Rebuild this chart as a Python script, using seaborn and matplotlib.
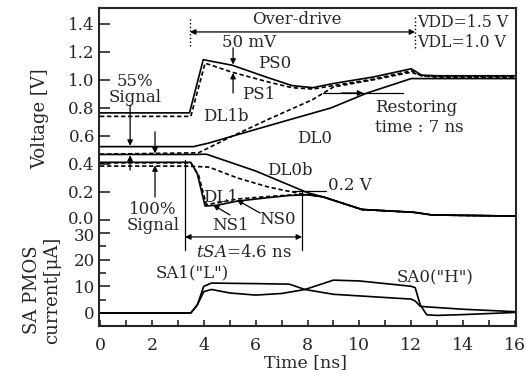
import matplotlib
matplotlib.use("Agg")
import matplotlib.pyplot as plt
import matplotlib.transforms as mtransforms
import seaborn as sns

# --- voltage waveforms (time in ns, voltage in V) ---
t_ps0 = [0, 3.45, 3.98, 5.1, 6.5, 7.4, 8.2, 9.0, 10.5, 12.0, 12.4, 13.0, 16.0]
v_ps0 = [0.765, 0.765, 1.145, 1.105, 1.015, 0.96, 0.945, 0.975, 1.02, 1.08, 1.035, 1.03, 1.03]

t_ps1 = [0, 3.5, 4.05, 5.1, 6.5, 7.4, 8.2, 9.0, 10.5, 12.0, 12.4, 13.0, 16.0]
v_ps1 = [0.74, 0.74, 1.12, 1.055, 0.985, 0.945, 0.935, 0.96, 1.005, 1.065, 1.03, 1.025, 1.025]

t_dl1b = [0, 3.8, 5.0, 6.5, 8.2, 9.0, 10.5, 12.0, 12.4, 13.0, 16.0]
v_dl1b = [0.47, 0.48, 0.59, 0.72, 0.86, 0.95, 1.0, 1.055, 1.03, 1.02, 1.02]

t_dl0 = [0, 3.6, 4.2, 5.5, 7.0, 8.9, 10.3, 12.0, 16.0]
v_dl0 = [0.524, 0.524, 0.55, 0.62, 0.70, 0.80, 0.907, 1.01, 1.01]

t_dl0b = [0, 3.7, 4.1, 6.0, 8.0, 8.6, 10.1, 12.1, 12.8, 16.0]
v_dl0b = [0.468, 0.468, 0.47, 0.35, 0.195, 0.165, 0.075, 0.055, 0.036, 0.028]

t_dl1 = [0, 3.3, 4.2, 5.3, 6.5, 7.8, 8.6, 10.1, 12.1, 12.8, 16.0]
v_dl1 = [0.385, 0.385, 0.378, 0.30, 0.235, 0.185, 0.165, 0.075, 0.055, 0.036, 0.028]

t_ns1 = [0, 3.5, 3.75, 4.05, 4.5, 5.3, 6.5, 7.3, 8.0, 8.6, 10.1, 12.1, 12.8, 16.0]
v_ns1 = [0.412, 0.412, 0.33, 0.10, 0.105, 0.135, 0.16, 0.175, 0.18, 0.165, 0.075, 0.055, 0.036, 0.028]

t_ns0 = [0, 3.5, 3.8, 4.1, 4.6, 5.3, 6.5, 7.3, 8.0, 8.6, 10.1, 12.1, 12.8, 16.0]
v_ns0 = [0.408, 0.408, 0.32, 0.11, 0.125, 0.15, 0.168, 0.178, 0.182, 0.165, 0.075, 0.055, 0.036, 0.028]

# --- SA PMOS currents (uA) ---
t_sa1 = [0, 3.5, 3.75, 4.0, 4.3, 6.0, 7.3, 7.9, 9.0, 10.0, 11.0, 12.0, 12.15, 12.35, 12.6, 14.0, 16.0]
i_sa1 = [0, 0, 3.0, 10.0, 11.2, 11.0, 10.8, 8.8, 7.0, 6.4, 5.8, 5.2, 4.5, 2.5, 2.3, 1.4, 0.5]

t_sa0 = [0, 3.5, 3.75, 4.0, 4.3, 5.0, 6.0, 7.0, 7.9, 9.0, 10.0, 11.0, 12.0, 12.15, 12.35, 12.6, 13.0, 14.0, 16.0]
i_sa0 = [0, 0, 3.0, 8.0, 8.8, 7.5, 6.7, 7.3, 8.8, 12.3, 12.0, 11.0, 10.0, 9.5, 3.0, -0.7, -0.9, -0.6, 0.2]

SOLID = "-"
DASH = (0, (2.6, 1.6))

sns.set_style("ticks")
plt.rcParams["font.family"] = ["DejaVu Serif"]
plt.rcParams["mathtext.fontset"] = "dejavuserif"

fig = plt.figure(figsize=(5.26, 3.72), dpi=100)
ax_v = fig.add_axes([99 / 526, 1 - 227 / 372, 417 / 526, 219 / 372])
ax_i = fig.add_axes([99 / 526, 1 - 326 / 372, 417 / 526, 99 / 372], sharex=ax_v)
ax_v.set_zorder(2)
ax_v.patch.set_visible(False)
ax_i.patch.set_visible(False)

volt_curves = [
    (t_ps0, v_ps0, SOLID), (t_ps1, v_ps1, DASH), (t_dl1b, v_dl1b, DASH),
    (t_dl0, v_dl0, SOLID), (t_dl0b, v_dl0b, SOLID), (t_dl1, v_dl1, DASH),
    (t_ns1, v_ns1, SOLID), (t_ns0, v_ns0, DASH),
]
for t, v, ls in volt_curves:
    sns.lineplot(x=t, y=v, ax=ax_v, color="black", linewidth=1.2,
                 linestyle=ls, errorbar=None)

for t, i in [(t_sa1, i_sa1), (t_sa0, i_sa0)]:
    sns.lineplot(x=t, y=i, ax=ax_i, color="black", linewidth=1.2, errorbar=None)

# axes styling
ax_v.set_xlim(-0.04, 16.04)
ax_v.set_ylim(-0.05, 1.514)
ax_i.set_ylim(-4.87, 32.2)
ax_v.set_yticks([0.0, 0.2, 0.4, 0.6, 0.8, 1.0, 1.2, 1.4])
ax_v.set_yticklabels([f"{v:.1f}" for v in ax_v.get_yticks()])
ax_i.set_yticks([0, 10, 20, 30])
ax_i.set_yticks([5, 15, 25], minor=True)
ax_i.set_xticks(range(0, 17, 2))
ax_i.set_xticks(range(1, 16, 2), minor=True)

ax_v.spines["bottom"].set_visible(False)
ax_i.spines["top"].set_visible(False)
for ax in (ax_v, ax_i):
    for s in ax.spines.values():
        s.set_linewidth(1.5)
    ax.set_xlabel("")
    ax.set_ylabel("")
ax_v.tick_params(axis="x", which="both", bottom=False, labelbottom=False)
ax_v.tick_params(axis="y", direction="in", length=8, width=1.2, pad=3, labelsize=12)
ax_i.tick_params(axis="y", which="major", direction="in", length=8, width=1.2, pad=3, labelsize=12)
ax_i.tick_params(axis="y", which="minor", direction="in", length=5, width=1.2)
ax_i.tick_params(axis="x", which="both", direction="in", length=4, width=1.2, pad=8, labelsize=12.5)

# the "0.0" and "30" labels sit very close together, nudge them apart a little
lbl_00 = ax_v.get_yticklabels()[0]
lbl_00.set_transform(lbl_00.get_transform() + mtransforms.ScaledTranslation(0, 1.5 / 72, fig.dpi_scale_trans))
lbl_30 = ax_i.get_yticklabels()[-1]
lbl_30.set_transform(lbl_30.get_transform() + mtransforms.ScaledTranslation(0, -1.5 / 72, fig.dpi_scale_trans))

fig.text(40 / 526, 1 - 119 / 372, "Voltage [V]", rotation=90, ha="center", va="center", fontsize=13)
fig.text(42 / 526, 1 - 290 / 372, "SA PMOS\ncurrent[\u03bcA]", rotation=90, ha="center",
         va="center", fontsize=13, linespacing=1.1, multialignment="center")
fig.text(305 / 526, 1 - 363 / 372, "Time [ns]", ha="center", va="center", fontsize=12.5)

fs = 12
arrow = dict(arrowstyle="-|>", color="black", lw=0.9, mutation_scale=8, shrinkA=0, shrinkB=0)
both = dict(arrowstyle="<|-|>", color="black", lw=0.9, mutation_scale=8, shrinkA=0, shrinkB=0)

# over-drive
ax_v.annotate("", xy=(12.15, 1.343), xytext=(3.47, 1.343), arrowprops=both, annotation_clip=False)
ax_v.plot([3.47, 3.47], [1.24, 1.44], color="black", lw=1.0, ls=":", clip_on=False)
ax_v.plot([12.15, 12.15], [1.23, 1.46], color="black", lw=1.0, ls=":", clip_on=False)
ax_v.text(7.6, 1.43, "Over-drive", ha="center", va="center", fontsize=fs)
ax_v.text(12.22, 1.414, "VDD=1.5 V", ha="left", va="center", fontsize=11.3)
ax_v.text(12.22, 1.271, "VDL=1.0 V", ha="left", va="center", fontsize=11.3)

# 50 mV
ax_v.text(4.7, 1.27, "50 mV", ha="left", va="center", fontsize=fs)
ax_v.annotate("", xy=(5.13, 1.11), xytext=(5.13, 1.23), arrowprops=arrow)
ax_v.annotate("", xy=(5.13, 1.05), xytext=(5.13, 0.907), arrowprops=arrow)

# curve labels
ax_v.text(6.09, 1.121, "PS0", ha="left", va="center", fontsize=fs)
ax_v.text(5.47, 0.893, "PS1", ha="left", va="center", fontsize=fs)
ax_v.text(3.97, 0.736, "DL1b", ha="left", va="center", fontsize=fs)
ax_v.text(7.6, 0.579, "DL0", ha="left", va="center", fontsize=fs)
ax_v.text(6.44, 0.357, "DL0b", ha="left", va="center", fontsize=fs)
ax_v.text(8.79, 0.243, "0.2 V", ha="left", va="center", fontsize=fs)
ax_v.plot([7.4, 8.7], [0.207, 0.207], color="black", lw=0.9)
ax_v.text(3.97, 0.164, "DL1", ha="left", va="center", fontsize=fs)
ax_v.text(4.32, -0.036, "NS1", ha="left", va="center", fontsize=fs)
ax_v.text(6.13, 0.0, "NS0", ha="left", va="center", fontsize=fs)
ax_v.annotate("", xy=(4.36, 0.107), xytext=(5.01, 0.036), arrowprops=arrow)
ax_v.annotate("", xy=(5.28, 0.143), xytext=(6.17, 0.05), arrowprops=arrow)

# restoring time
ax_v.plot([8.6, 11.7], [0.907, 0.907], color="black", lw=0.9)
ax_v.annotate("", xy=(10.15, 0.907), xytext=(9.3, 0.907), arrowprops=arrow)
ax_v.text(10.6, 0.73, "Restoring\ntime : 7 ns", ha="left", va="center", fontsize=fs, linespacing=1.2)

# signal arrows
ax_v.text(1.35, 0.932, "55%\nSignal", ha="center", va="center", fontsize=fs, linespacing=0.9)
ax_v.annotate("", xy=(1.16, 0.53), xytext=(1.16, 0.82), arrowprops=arrow)
ax_v.annotate("", xy=(1.16, 0.462), xytext=(1.16, 0.357), arrowprops=arrow)
ax_v.annotate("", xy=(2.12, 0.475), xytext=(2.12, 0.63), arrowprops=arrow)
ax_v.annotate("", xy=(2.12, 0.39), xytext=(2.12, 0.164), arrowprops=arrow)
ax_v.text(2.04, 0.018, "100%\nSignal", ha="center", va="center", fontsize=fs, linespacing=0.9)

# tSA
ax_v.plot([3.28, 3.28], [0.43, -0.214], color="black", lw=0.9, clip_on=False)
ax_v.plot([7.79, 7.79], [0.214, -0.214], color="black", lw=0.9, clip_on=False)
ax_v.annotate("", xy=(7.79, -0.121), xytext=(3.28, -0.121), arrowprops=both, annotation_clip=False)
ax_v.text(5.55, -0.229, r"$\mathit{tSA}$=4.6 ns", ha="center", va="center", fontsize=fs)

# current labels
ax_i.text(3.55, 15.0, 'SA1("L")', ha="center", va="center", fontsize=fs)
ax_i.text(12.9, 13.1, 'SA0("H")', ha="center", va="center", fontsize=fs)

fig.savefig("out.png", dpi=100, facecolor="white")
